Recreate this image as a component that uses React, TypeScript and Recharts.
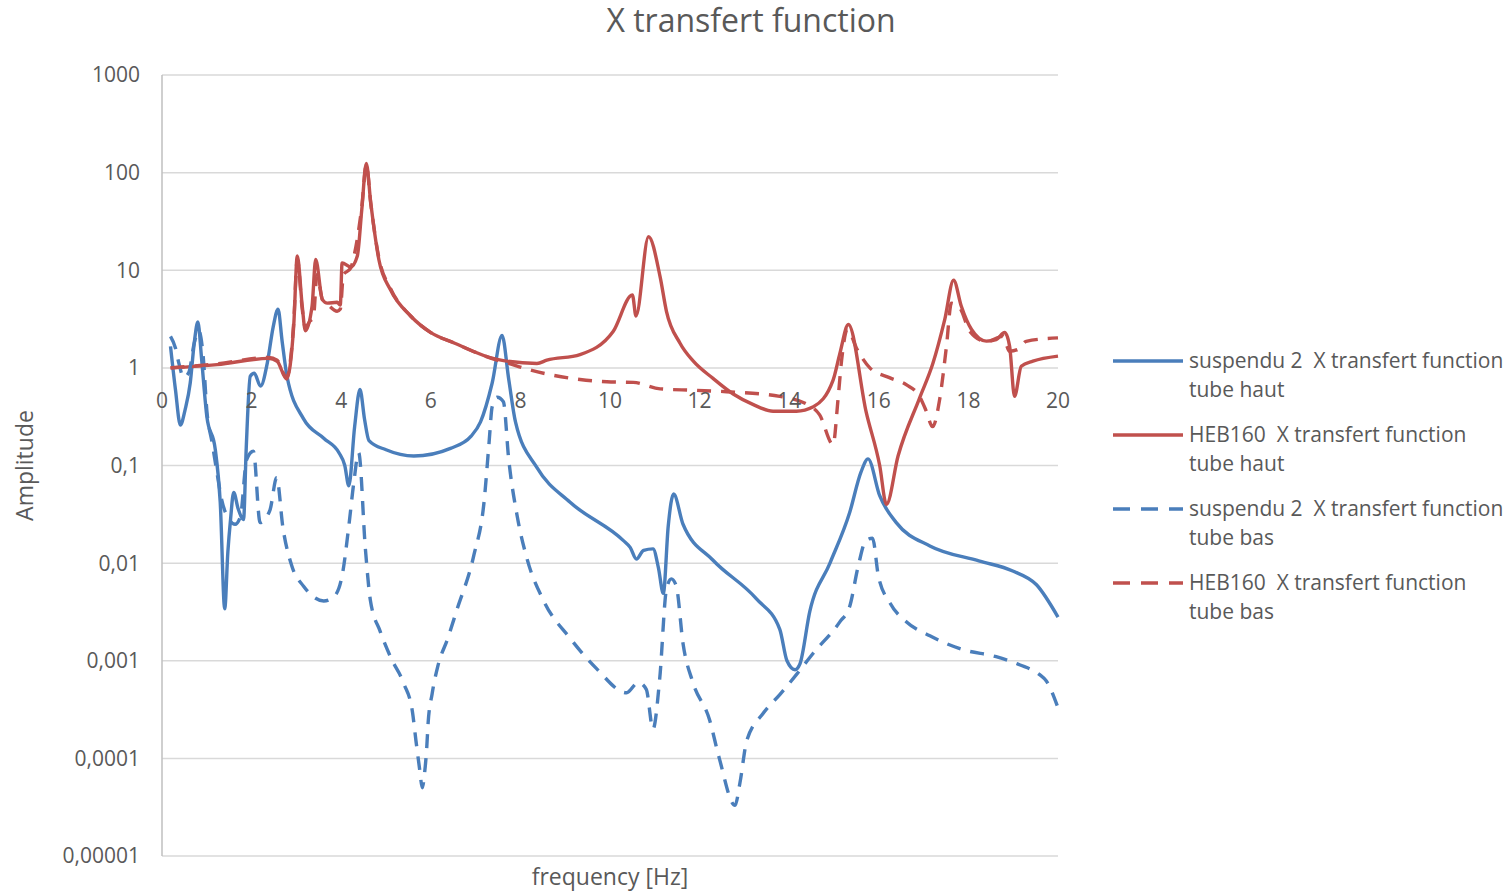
import React from 'react';
import { LineChart, Line, XAxis, YAxis, CartesianGrid } from 'recharts';

// ---- measured transfer functions (frequency in Hz, amplitude dimensionless) ----

// suspendu 2 — tube haut
const suspHautFreq = [
  0.19, 0.3, 0.41, 0.52, 0.63, 0.72, 0.8, 0.88, 0.93, 1.0, 1.19, 1.3, 1.4, 1.47, 1.53, 1.6, 1.7, 1.82,
  1.88, 1.97, 2.06, 2.2, 2.35, 2.48, 2.59, 2.68, 2.79, 3.16, 3.61, 3.95, 4.08, 4.17, 4.3, 4.42, 4.52,
  4.62, 5.0, 5.62, 6.44, 6.9, 7.11, 7.37, 7.59, 7.74, 7.89, 8.37, 9.11, 10.3, 10.45, 10.59, 10.75,
  10.96, 11.08, 11.19, 11.3, 11.42, 11.63, 12.3, 13.27, 13.79, 13.95, 14.13, 14.24, 14.46, 14.91,
  15.35, 15.6, 15.76, 16.02, 16.39, 17.14, 18.25, 18.99, 19.52, 20.0,
];
const suspHautAmp = [
  1.66, 0.6, 0.26, 0.38, 0.7, 1.8, 2.95, 1.3, 0.7, 0.32, 0.145, 0.042, 0.0034, 0.013, 0.028, 0.053, 0.036, 0.028,
  0.15, 0.82, 0.88, 0.65, 1.12, 2.6, 4.0, 1.9, 0.82, 0.3, 0.19, 0.135, 0.1, 0.062, 0.25, 0.6, 0.3,
  0.18, 0.145, 0.125, 0.15, 0.2, 0.28, 0.7, 2.15, 0.76, 0.28, 0.095, 0.042, 0.017, 0.0145, 0.011, 0.0135,
  0.014, 0.009, 0.0049, 0.024, 0.051, 0.025, 0.0107, 0.0043, 0.0021, 0.001, 0.00081, 0.00093, 0.0032, 0.01,
  0.033, 0.085, 0.117, 0.049, 0.026, 0.015, 0.0105, 0.0083, 0.006, 0.0028,
];

// HEB160 — tube haut
const hebHautFreq = [
  0.19, 1.23, 2.38, 2.57, 2.78, 2.94, 3.02, 3.13, 3.2, 3.35, 3.43, 3.58, 3.69, 3.91, 3.98, 4.02, 4.21,
  4.36, 4.46, 4.56, 4.66, 4.84, 5.1, 5.55, 6.0, 6.52, 7.48, 8.37, 8.59, 9.33, 10.07, 10.5, 10.58, 10.86,
  11.12, 11.26, 11.56, 11.86, 12.3, 12.75, 13.2, 13.64, 14.16, 14.54, 14.98, 15.13, 15.32, 15.72, 16.02,
  16.17, 16.43, 16.91, 17.21, 17.47, 17.67, 17.84, 18.07, 18.4, 18.62, 18.81, 18.92, 19.03, 19.18,
  19.44, 20.0,
];
const hebHautAmp = [
  1.0, 1.08, 1.25, 1.17, 0.77, 2.7, 14, 4.3, 2.4, 4.3, 12.9, 5.0, 4.6, 4.7, 4.4, 11.9, 10.8,
  14, 42, 124, 49, 12.9, 6.3, 3.4, 2.3, 1.8, 1.22, 1.11, 1.2, 1.37, 2.36, 5.6, 3.4, 22,
  8.5, 3.8, 1.8, 1.17, 0.78, 0.54, 0.42, 0.36, 0.36, 0.4, 0.75, 1.4, 2.78, 0.35, 0.1,
  0.04, 0.125, 0.49, 1.12, 3.1, 7.9, 4.3, 2.47, 1.88, 1.95, 2.3, 1.66, 0.51, 1.04,
  1.17, 1.32,
];

// suspendu 2 — tube bas
const suspBasFreq = [
  0.19, 0.3, 0.38, 0.48, 0.6, 0.72, 0.82, 0.92, 1.0, 1.12, 1.23, 1.33, 1.5, 1.63, 1.75, 1.89, 2.04,
  2.19, 2.41, 2.56, 2.7, 2.9, 3.16, 3.61, 3.83, 4.02, 4.17, 4.28, 4.39, 4.54, 4.65, 4.87, 5.11, 5.4,
  5.59, 5.67, 5.75, 5.81, 5.86, 5.91, 5.94, 6.03, 6.16, 6.38, 6.58, 6.96, 7.19, 7.3, 7.37, 7.48, 7.62,
  7.74, 7.93, 8.15, 8.52, 9.11, 9.7, 10.37, 10.63, 10.81, 10.96, 11.11, 11.26, 11.37, 11.48, 11.63,
  11.85, 12.22, 12.44, 12.79, 12.9, 13.05, 13.42, 13.79, 14.16, 14.54, 15.13, 15.35, 15.54, 15.71,
  15.86, 15.99, 16.25, 16.62, 17.14, 17.88, 18.62, 19.14, 19.59, 19.74, 20.0,
];
const suspBasAmp = [
  2.1, 1.6, 1.1, 0.8, 0.9, 1.8, 2.4, 1.3, 0.37, 0.17, 0.083, 0.045, 0.028, 0.025, 0.03, 0.115, 0.14,
  0.026, 0.035, 0.075, 0.023, 0.0093, 0.0058, 0.0041, 0.0045, 0.0074, 0.024, 0.066, 0.135, 0.014, 0.0042, 0.002, 0.00107, 0.00058,
  0.0003, 0.00015, 0.000078, 0.00005, 0.00007, 0.00013, 0.00023, 0.00046, 0.00089, 0.0017, 0.0033, 0.012, 0.043, 0.17, 0.4, 0.5, 0.45,
  0.115, 0.03, 0.011, 0.0041, 0.0017, 0.00083, 0.00047, 0.0006, 0.00051, 0.0002, 0.00066, 0.0054, 0.0069, 0.0058, 0.0015,
  0.0006, 0.00025, 0.0001, 0.000033, 0.000056, 0.00015, 0.00029, 0.00045, 0.00072, 0.0012, 0.0025, 0.0036, 0.0093, 0.017,
  0.018, 0.0074, 0.0039, 0.0025, 0.0018, 0.0013, 0.0011, 0.00091, 0.00072, 0.00062, 0.00033,
];

// HEB160 — tube bas
const hebBasFreq = [
  0.19, 1.23, 2.38, 2.57, 2.78, 2.94, 3.02, 3.13, 3.2, 3.3, 3.38, 3.46, 3.58, 3.69, 3.91, 3.98, 4.05,
  4.21, 4.3, 4.46, 4.56, 4.66, 4.84, 5.1, 5.55, 6.0, 6.52, 7.48, 7.63, 8.22, 9.33, 9.93, 10.52, 11.12,
  11.86, 12.6, 13.79, 14.46, 14.68, 14.98, 15.09, 15.17, 15.3, 15.5, 15.8, 16.25, 16.62, 16.91, 17.06,
  17.2, 17.36, 17.51, 17.62, 17.81, 18.03, 18.4, 18.77, 18.92, 19.11, 19.29, 20.0,
];
const hebBasAmp = [
  1.0, 1.1, 1.28, 1.2, 0.8, 2.9, 13, 4.0, 2.6, 3.0, 3.3, 9, 5.0, 4.5, 3.8, 4.0, 9,
  10.5, 15, 45, 120, 48, 13.5, 6.5, 3.4, 2.3, 1.8, 1.2, 1.15, 0.95, 0.76, 0.72, 0.71, 0.61,
  0.59, 0.57, 0.51, 0.41, 0.33, 0.164, 0.48, 1.2, 2.5, 1.6, 1.0, 0.79, 0.67, 0.51, 0.36,
  0.25, 0.48, 1.66, 4.6, 4.1, 2.37, 1.86, 2.1, 1.48, 1.55, 1.87, 2.03,
];

const xTicks = [0, 2, 4, 6, 8, 10, 12, 14, 16, 18, 20];
const yTicks = [0.00001, 0.0001, 0.001, 0.01, 0.1, 1, 10, 100, 1000];

// ---- styling / layout ----
const BLUE = '#4a7ebb';
const RED = '#c0504d';
const TEXT = '#595959';
const FONT = '"Open Sans", "Noto Sans", sans-serif';

const W = 1511;
const H = 894;
const PLOT_LEFT = 162;
const PLOT_RIGHT = 1058;
const PLOT_TOP = 75;
const PLOT_BOTTOM = 856;
// horizontal axis crosses the value axis at amplitude 1 (3 decades below the top of a 1e-5..1e3 range)
const ONE_LINE_Y = PLOT_TOP + ((PLOT_BOTTOM - PLOT_TOP) * 3) / 8;

const toPoints = (freq: number[], amp: number[]) => freq.map((f, i) => ({ f, a: amp[i] }));

const series = [
  { id: 'suspHaut', label: ['suspendu 2  X transfert function', 'tube haut'], color: BLUE, dash: undefined as string | undefined, data: toPoints(suspHautFreq, suspHautAmp) },
  { id: 'hebHaut', label: ['HEB160  X transfert function', 'tube haut'], color: RED, dash: undefined as string | undefined, data: toPoints(hebHautFreq, hebHautAmp) },
  { id: 'suspBas', label: ['suspendu 2  X transfert function', 'tube bas'], color: BLUE, dash: '14 10', data: toPoints(suspBasFreq, suspBasAmp) },
  { id: 'hebBas', label: ['HEB160  X transfert function', 'tube bas'], color: RED, dash: '14 10', data: toPoints(hebBasFreq, hebBasAmp) },
];

const formatAmp = (v: number) => String(v).replace('.', ',');

const XTick = (props: any) => {
  const { x, payload } = props;
  return (
    <text x={x} y={ONE_LINE_Y + 40} textAnchor="middle" fill={TEXT} fontSize={21} fontFamily={FONT}>
      {payload.value}
    </text>
  );
};

const SeriesLegend = () => (
  <div style={{ position: 'absolute', left: 1112, top: 346, fontFamily: FONT, fontSize: 21, color: TEXT }}>
    {series.map((s) => (
      <div key={s.id} style={{ display: 'flex', alignItems: 'flex-start', marginBottom: 16 }}>
        <svg width={72} height={29} style={{ flex: 'none' }}>
          <line x1={1} y1={15} x2={71} y2={15} stroke={s.color} strokeWidth={3.5} strokeDasharray={s.dash ? '17 11' : undefined} />
        </svg>
        <div style={{ marginLeft: 5, lineHeight: '29px', whiteSpace: 'pre' }}>
          {s.label.map((t) => (
            <div key={t}>{t}</div>
          ))}
        </div>
      </div>
    ))}
  </div>
);

export default function App() {
  return (
    <div style={{ position: 'absolute', left: 0, top: 0, width: W, height: H, background: '#fff', fontFamily: FONT }}>
      <div
        style={{
          position: 'absolute',
          left: 0,
          top: 0,
          width: 1502,
          textAlign: 'center',
          fontSize: 32,
          color: TEXT,
          lineHeight: '40px',
        }}
      >
        X transfert function
      </div>
      <LineChart
        width={W}
        height={H}
        margin={{ top: PLOT_TOP, right: W - PLOT_RIGHT, bottom: 0, left: 0 }}
      >
        <CartesianGrid vertical={false} stroke="#d9d9d9" strokeWidth={1.5} />
        <XAxis
          dataKey="f"
          type="number"
          domain={[0, 20]}
          ticks={xTicks}
          height={H - PLOT_BOTTOM}
          axisLine={false}
          tickLine={false}
          tick={<XTick />}
          allowDuplicatedCategory={false}
          label={{ value: 'frequency [Hz]', position: 'insideBottom', offset: 9, fill: TEXT, fontSize: 23, fontFamily: FONT }}
        />
        <YAxis
          type="number"
          scale="log"
          domain={[0.00001, 1000]}
          ticks={yTicks}
          allowDataOverflow
          width={PLOT_LEFT}
          axisLine={{ stroke: '#bfbfbf', strokeWidth: 1.5 }}
          tickLine={false}
          tickSize={6}
          tickMargin={16}
          tickFormatter={formatAmp}
          tick={{ fill: TEXT, fontSize: 21, fontFamily: FONT }}
          label={{
            value: 'Amplitude',
            angle: -90,
            position: 'insideLeft',
            offset: 25,
            fill: TEXT,
            fontSize: 23,
            fontFamily: FONT,
            style: { textAnchor: 'middle' },
          }}
        />
        {series.map((s) => (
          <Line
            key={s.id}
            data={s.data}
            dataKey="a"
            name={s.label.join(' ')}
            type="monotone"
            stroke={s.color}
            strokeWidth={3.4}
            strokeDasharray={s.dash}
            dot={false}
            activeDot={false}
            isAnimationActive={false}
          />
        ))}
      </LineChart>
      <SeriesLegend />
    </div>
  );
}
